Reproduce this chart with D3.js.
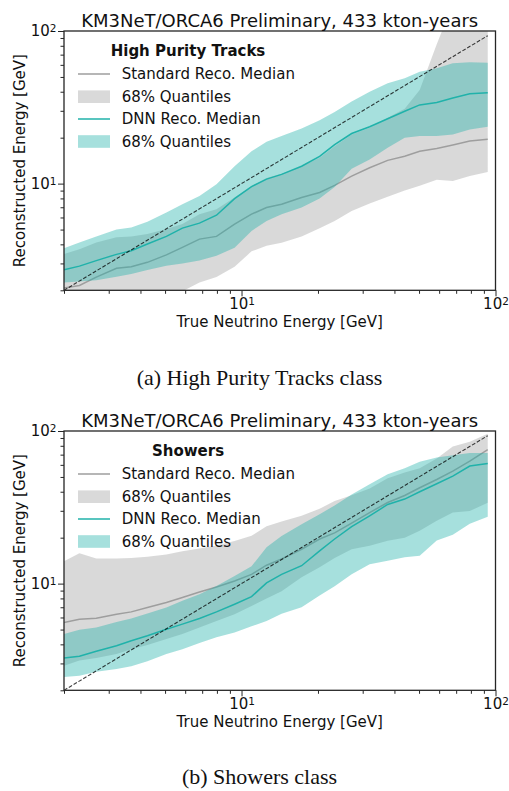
<!DOCTYPE html>
<html><head><meta charset="utf-8">
<script src="https://cdn.jsdelivr.net/npm/d3@7"></script>
<style>body{margin:0;background:#fff} svg{display:block}</style>
</head><body>
<script>
// ---- data (true neutrino energy bins, GeV) ----
const trueEnergy = [2.0, 2.3, 2.68, 3.22, 3.68, 4.26, 5.06, 5.85, 6.83, 7.97, 9.39, 10.95, 12.55, 14.38, 17.24, 20.3, 23.26, 27.14, 31.95, 37.62, 43.9, 50.3, 58.7, 67.9, 79.2, 93.2];

// High Purity Tracks
const tracksStdMed = [2.07, 2.15, 2.44, 2.79, 2.85, 3.05, 3.41, 3.82, 4.33, 4.51, 5.43, 6.31, 6.97, 7.33, 8.1, 8.74, 9.74, 11.2, 12.7, 14.2, 15.1, 16.3, 17.0, 17.9, 19.0, 19.5];
const tracksStdLo  = [1.6, 1.6, 1.65, 1.7, 1.75, 1.8, 1.85, 1.97, 2.25, 2.44, 2.85, 3.6, 3.92, 4.1, 4.5, 5.1, 5.7, 6.62, 7.4, 8.2, 9.0, 9.7, 10.6, 10.4, 11.2, 11.9];
const tracksStdHi  = [3.46, 3.72, 4.12, 4.45, 4.51, 4.67, 5.04, 5.43, 6.31, 6.8, 8.1, 9.65, 10.9, 11.6, 13.0, 14.8, 17.6, 21.0, 23.2, 27.0, 31.0, 41.0, 82, 150, 180, 200];
const tracksDnnMed = [2.73, 2.88, 3.13, 3.44, 3.63, 4.02, 4.51, 5.11, 5.51, 6.21, 7.98, 9.56, 10.7, 11.5, 13.0, 15.1, 18.0, 21.3, 23.6, 26.6, 29.8, 32.8, 34.0, 36.4, 38.8, 39.4];
const tracksDnnLo  = [2.25, 2.28, 2.33, 2.45, 2.56, 2.72, 2.9, 3.0, 3.13, 3.37, 3.8, 4.9, 5.7, 6.3, 6.97, 8.0, 9.5, 12.5, 14.4, 17.2, 20.0, 20.5, 20.5, 21.0, 22.6, 23.6];
const tracksDnnHi  = [3.77, 4.12, 4.51, 5.0, 5.16, 5.62, 6.47, 7.33, 8.3, 9.9, 13.0, 16.3, 18.8, 20.5, 23.0, 26.0, 29.5, 34.5, 40.0, 45.5, 49.0, 54.0, 57.0, 61.5, 62.5, 62.0];

// Showers
const showersStdMed = [5.57, 5.85, 5.94, 6.31, 6.53, 6.97, 7.52, 8.1, 8.82, 9.5, 10.4, 11.5, 13.2, 14.5, 16.8, 19.6, 21.5, 24.9, 29.2, 34.0, 37.8, 42.5, 48.1, 54.6, 63.4, 75.5];
const showersStdLo  = [2.9, 3.13, 3.26, 3.46, 3.72, 3.96, 4.33, 4.67, 5.16, 5.7, 6.31, 7.14, 8.0, 8.9, 11.0, 12.8, 14.7, 16.8, 17.7, 19.1, 20.0, 22.2, 25.8, 29.2, 29.9, 33.9];
const showersStdHi  = [14.0, 15.8, 14.6, 14.6, 14.7, 15.0, 15.5, 16.3, 17.0, 17.8, 19.0, 20.6, 23.8, 25.5, 27.8, 31.0, 34.8, 38.0, 42.0, 49.0, 53.5, 57.0, 66.0, 79.0, 85.0, 96.0];
const showersDnnMed = [3.26, 3.34, 3.6, 3.92, 4.22, 4.55, 5.03, 5.43, 5.91, 6.53, 7.33, 8.22, 10.1, 11.5, 13.1, 16.4, 19.6, 23.6, 27.8, 33.0, 35.8, 40.0, 45.1, 50.6, 58.9, 61.2];
const showersDnnLo  = [2.44, 2.49, 2.65, 2.76, 2.88, 3.1, 3.46, 3.72, 4.08, 4.45, 4.79, 5.25, 5.7, 6.35, 7.0, 8.35, 9.6, 11.5, 13.4, 14.1, 14.9, 15.2, 19.2, 20.9, 24.7, 27.4];
const showersDnnHi  = [4.67, 4.98, 5.16, 5.6, 5.91, 6.37, 6.97, 7.71, 8.51, 9.65, 11.2, 13.0, 17.3, 20.5, 24.5, 28.5, 32.5, 38.4, 44.7, 52.0, 57.0, 63.0, 67.0, 69.3, 71.8, 71.8];

const majorTicks = [10, 100];
const majorTickExponents = ["1", "2"];
const minorTicks = [2, 3, 4, 5, 6, 7, 8, 9, 20, 30, 40, 50, 60, 70, 80, 90];
const legendLabels = ["Standard Reco. Median", "68% Quantiles", "DNN Reco. Median", "68% Quantiles"];
const plotTitle = "KM3NeT/ORCA6 Preliminary, 433 kton-years";
const xLabel = "True Neutrino Energy [GeV]";
const yLabel = "Reconstructed Energy [GeV]";

const panels = [
  {top: 0, legendTitle: "High Purity Tracks", caption: "(a) High Purity Tracks class", captionY: 385,
   stdMed: tracksStdMed, stdLo: tracksStdLo, stdHi: tracksStdHi, dnnMed: tracksDnnMed, dnnLo: tracksDnnLo, dnnHi: tracksDnnHi},
  {top: 400, legendTitle: "Showers", caption: "(b) Showers class", captionY: 384,
   stdMed: showersStdMed, stdLo: showersStdLo, stdHi: showersStdHi, dnnMed: showersDnnMed, dnnLo: showersDnnLo, dnnHi: showersDnnHi}
];

// ---- styles ----
const FONT = "DejaVu Sans, sans-serif";
const TEAL = "#20b2aa";
const GRAYLINE = "#9e9e9e";
const GRAYFILL = "rgba(128,128,128,0.3)";
const TEALFILL = "rgba(32,178,170,0.4)";
const SPINE = "#262626";

const W = 509, H = 791;
const svg = d3.select("body").append("svg").attr("width", W).attr("height", H)
  .style("font-family", FONT);

const L = 64, R = 495.5, T = 31, B = 290.3;

panels.forEach((p, pi) => {
  const g = svg.append("g").attr("transform", `translate(0,${p.top})`);
  const x = d3.scaleLog().domain([2, 100]).range([L, R]);
  const y = d3.scaleLog().domain([2, 100]).range([B, T]);

  const clipId = "clip" + pi;
  g.append("clipPath").attr("id", clipId).append("rect")
    .attr("x", L).attr("y", T).attr("width", R - L).attr("height", B - T);
  const plot = g.append("g").attr("clip-path", `url(#${clipId})`);

  const idx = d3.range(trueEnergy.length);
  const band = (lo, hi) => d3.area().x(i => x(trueEnergy[i])).y0(i => y(lo[i])).y1(i => y(hi[i]));
  const line = (v) => d3.line().x(i => x(trueEnergy[i])).y(i => y(v[i]));

  plot.append("path").attr("d", band(p.stdLo, p.stdHi)(idx)).attr("fill", GRAYFILL);
  plot.append("path").attr("d", line(p.stdMed)(idx)).attr("fill", "none")
    .attr("stroke", GRAYLINE).attr("stroke-width", 1.5);
  plot.append("path").attr("d", band(p.dnnLo, p.dnnHi)(idx)).attr("fill", TEALFILL);
  plot.append("path").attr("d", line(p.dnnMed)(idx)).attr("fill", "none")
    .attr("stroke", TEAL).attr("stroke-width", 1.5);
  // diagonal y = x
  const diag = [trueEnergy[0], trueEnergy[trueEnergy.length - 1]];
  plot.append("path").attr("d", d3.line().x(d => x(d)).y(d => y(d))(diag))
    .attr("fill", "none").attr("stroke", "rgba(0,0,0,0.75)").attr("stroke-width", 1.1)
    .attr("stroke-dasharray", "3.8,1.8");

  // axes
  const xMajor = d3.axisBottom(x).tickValues(majorTicks).tickSize(6).tickPadding(2.5).tickFormat(() => "10");
  const xMinor = d3.axisBottom(x).tickValues(minorTicks).tickSize(3.5).tickFormat("");
  const yMajor = d3.axisLeft(y).tickValues(majorTicks).tickSize(6).tickPadding(1.5).tickFormat(() => "10");
  const yMinor = d3.axisLeft(y).tickValues(minorTicks).tickSize(3.5).tickFormat("");

  const styleAxis = (sel) => {
    sel.select(".domain").remove();
    sel.selectAll("line").attr("stroke", SPINE).attr("stroke-width", 1);
    sel.selectAll("text").attr("font-family", FONT).attr("font-size", 15).attr("fill", "#111");
  };
  const addSup = (sel) => {
    sel.selectAll(".tick text").each(function(d) {
      const k = majorTicks.indexOf(d);
      d3.select(this).append("tspan").attr("dy", "-0.42em").attr("font-size", "0.7em")
        .text(majorTickExponents[k]);
    });
  };
  g.append("g").attr("transform", `translate(0,${B})`).call(xMinor).call(styleAxis);
  g.append("g").attr("transform", `translate(0,${B})`).call(xMajor).call(styleAxis).call(addSup);
  g.append("g").attr("transform", `translate(${L},0)`).call(yMinor).call(styleAxis);
  g.append("g").attr("transform", `translate(${L},0)`).call(yMajor).call(styleAxis).call(addSup);

  // frame
  g.append("rect").attr("x", L).attr("y", T).attr("width", R - L).attr("height", B - T)
    .attr("fill", "none").attr("stroke", SPINE).attr("stroke-width", 1.3);

  // title
  g.append("text").attr("x", (L + R) / 2).attr("y", 26.5).attr("text-anchor", "middle")
    .attr("font-size", 18).attr("fill", "#111").text(plotTitle);
  // axis labels
  g.append("text").attr("x", (L + R) / 2).attr("y", 327).attr("text-anchor", "middle")
    .attr("font-size", 15).attr("fill", "#111").text(xLabel);
  g.append("text").attr("transform", `translate(25,${(T + B) / 2}) rotate(-90)`)
    .attr("text-anchor", "middle").attr("font-size", 15).attr("fill", "#111").text(yLabel);

  // legend
  const lg = g.append("g");
  lg.append("text").attr("x", 188).attr("y", 56.3).attr("text-anchor", "middle")
    .attr("font-size", 15).attr("font-weight", "bold").attr("fill", "#111").text(p.legendTitle);
  const rows = [74, 96.7, 119, 141.5];
  const kinds = ["line", "patch", "line", "patch"];
  const cols = [GRAYLINE, GRAYFILL, TEAL, TEALFILL];
  rows.forEach((cy, k) => {
    if (kinds[k] === "line") {
      lg.append("line").attr("x1", 78).attr("x2", 110).attr("y1", cy).attr("y2", cy)
        .attr("stroke", cols[k]).attr("stroke-width", 1.5);
    } else {
      lg.append("rect").attr("x", 78).attr("y", cy - 6.3).attr("width", 32).attr("height", 12.6)
        .attr("fill", cols[k]);
    }
    lg.append("text").attr("x", 121.7).attr("y", cy + 5.4).attr("font-size", 15)
      .attr("fill", "#111").text(legendLabels[k]);
  });

  // caption
  g.append("text").attr("x", 259.5).attr("y", p.captionY).attr("text-anchor", "middle")
    .attr("font-family", "Liberation Serif, serif").attr("font-size", 22).attr("fill", "#111")
    .text(p.caption);
});
</script>
</body></html>
